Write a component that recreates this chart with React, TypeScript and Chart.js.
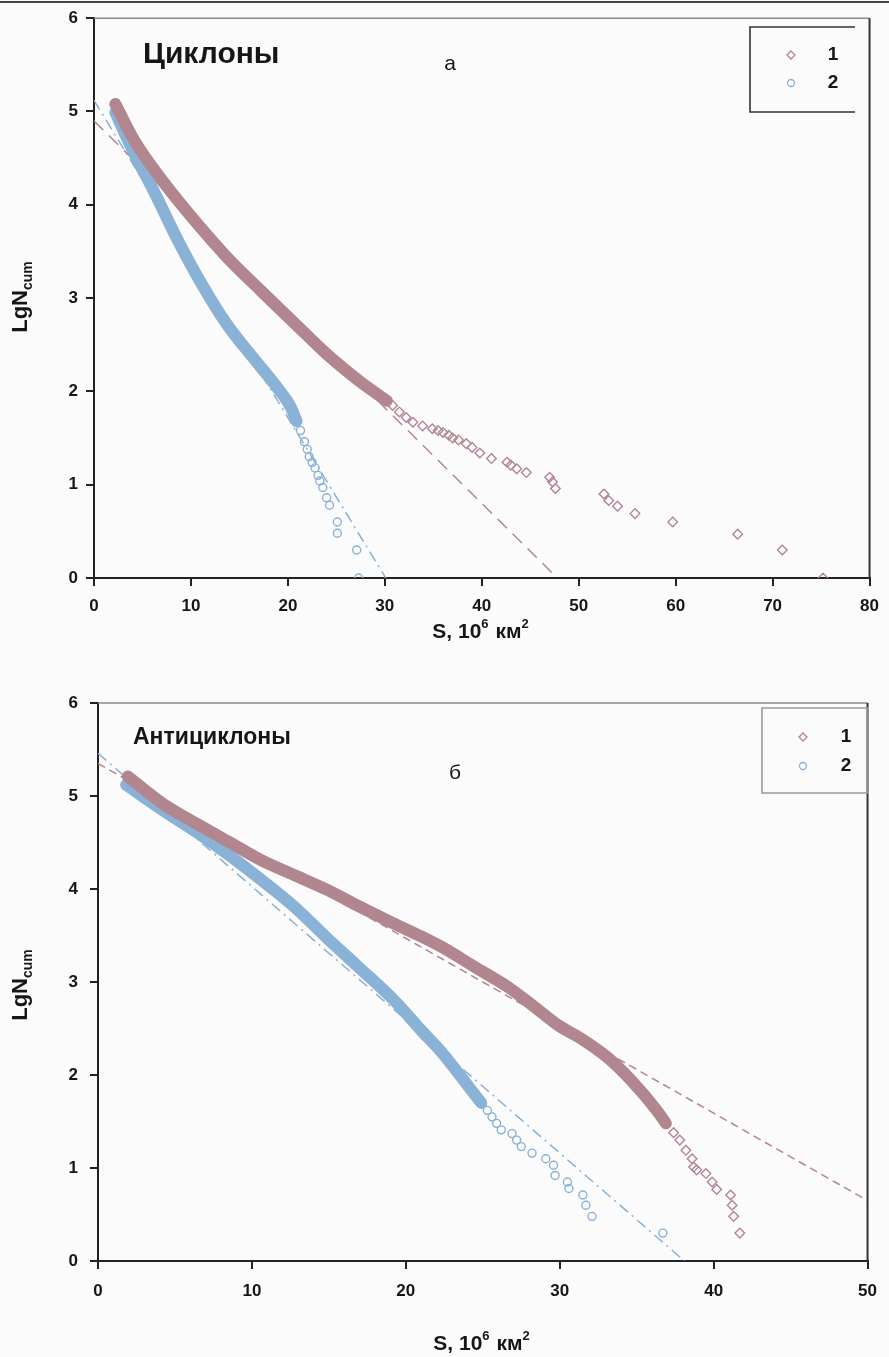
import React, { useEffect, useRef } from 'react';
import { Chart, registerables } from 'chart.js';
Chart.register(...registerables);

type Pt = [number, number];

// ---------- Panel a: Циклоны ----------
const cycBand1: Pt[] = [[2.2,5.08],[4.1,4.70],[6.9,4.28],[10.3,3.84],[13.7,3.44],[17.2,3.08],[20.6,2.74],[24.0,2.40],[27.5,2.10],[30.2,1.90]];
const cycTail1: Pt[] = [[30.8,1.85],[31.5,1.78],[32.2,1.72],[32.9,1.67],[33.9,1.63],[34.9,1.60],[35.5,1.58],[36.0,1.56],[36.6,1.53],[37.0,1.50],[37.6,1.48],[38.4,1.44],[39.0,1.40],[39.8,1.34],[41.0,1.28],[42.6,1.24],[43.0,1.21],[43.6,1.17],[44.6,1.13],[47.0,1.08],[47.3,1.03],[47.6,0.96],[52.6,0.90],[53.1,0.83],[54.0,0.77],[55.8,0.69],[59.7,0.60],[66.4,0.47],[71.0,0.30],[75.2,0.00]];
const cycBand2: Pt[] = [[2.2,4.99],[4.1,4.56],[6.2,4.14],[8.5,3.65],[11.0,3.17],[13.7,2.72],[16.5,2.35],[19.2,2.00],[20.3,1.83],[20.9,1.68]];
const cycTail2: Pt[] = [[21.3,1.58],[21.7,1.46],[22.0,1.38],[22.2,1.30],[22.5,1.24],[22.8,1.18],[23.1,1.10],[23.3,1.04],[23.6,0.97],[24.0,0.86],[24.3,0.78],[25.1,0.60],[25.1,0.48],[27.1,0.30],[27.3,0.00]];
const cycFit1: Pt[] = [[0,4.9],[47.8,0]];
const cycFit2: Pt[] = [[0,5.12],[30.1,0]];
const cycXTicks = [0,10,20,30,40,50,60,70,80];

// ---------- Panel б: Антициклоны ----------
const antBand1: Pt[] = [[1.94,5.21],[4.19,4.92],[6.33,4.71],[8.47,4.51],[10.6,4.31],[12.75,4.15],[14.9,3.99],[17.0,3.81],[19.2,3.63],[21.0,3.49],[22.4,3.37],[24.5,3.16],[26.6,2.95],[28.3,2.74],[29.85,2.54],[31.5,2.38],[33.1,2.19],[34.6,1.95],[36.3,1.62],[36.9,1.48]];
const antTail1: Pt[] = [[37.4,1.38],[37.8,1.30],[38.2,1.19],[38.6,1.10],[38.7,1.01],[38.9,0.98],[39.5,0.94],[39.9,0.85],[40.2,0.77],[41.1,0.71],[41.2,0.60],[41.3,0.48],[41.7,0.30]];
const antBand2: Pt[] = [[1.83,5.12],[4.19,4.85],[6.33,4.62],[8.47,4.37],[10.6,4.10],[12.75,3.81],[14.9,3.47],[17.0,3.15],[19.2,2.81],[21.0,2.48],[22.4,2.23],[24.1,1.87],[24.9,1.70]];
const antTail2: Pt[] = [[25.3,1.62],[25.6,1.55],[25.9,1.48],[26.2,1.41],[26.9,1.37],[27.2,1.30],[27.5,1.23],[28.2,1.16],[29.1,1.10],[29.6,1.03],[29.7,0.92],[30.5,0.85],[30.6,0.78],[31.5,0.71],[31.7,0.60],[32.1,0.48],[36.7,0.30]];
const antFit1: Pt[] = [[0,5.35],[50,0.65]];
const antFit2: Pt[] = [[0,5.46],[38.1,0]];
const antXTicks = [0,10,20,30,40,50];

const yTicks = [0,1,2,3,4,5,6];
const legendLabels = ['1','2'];

const FONT = '"Liberation Sans", Arial, sans-serif';
const MAUVE = 'rgb(178,134,142)';
const BLUE = 'rgb(138,177,214)';
const INK = '#161616';

type PanelCfg = {
  height: number;
  top: number;
  area: { left: number; right: number; top: number; bottom: number };
  xMax: number;
  xTicks: number[];
  band1: Pt[]; tail1: Pt[]; band2: Pt[]; tail2: Pt[]; fit1: Pt[]; fit2: Pt[];
  fit1Dash: number[];
  title: string; titleX: number; titleY: number; titleSize: number;
  letter: string; letterX: number; letterY: number;
  xTitleX: number; xTitleY: number;
  yTitleX: number; yTitleY: number;
  xTickPad: number; yTickPad: number;
  legend: { x1: number; y1: number; x2: number; y2: number; open: boolean; color: string; mx: number; tx: number; r1: number; r2: number };
};

const toXY = (a: Pt[]) => a.map(([x, y]) => ({ x, y }));

function decorPlugin(c: PanelCfg) {
  return {
    id: 'decor',
    afterDraw(chart: any) {
      const ctx: CanvasRenderingContext2D = chart.ctx;
      const a = chart.chartArea;
      ctx.save();
      // frame top & right
      ctx.strokeStyle = '#8a8a8a';
      ctx.lineWidth = 1.5;
      ctx.beginPath(); ctx.moveTo(a.left, a.top); ctx.lineTo(a.right, a.top); ctx.stroke();
      ctx.strokeStyle = '#333';
      ctx.lineWidth = 2;
      ctx.beginPath(); ctx.moveTo(a.right, a.top); ctx.lineTo(a.right, a.bottom + 1); ctx.stroke();

      // titles
      ctx.fillStyle = INK;
      ctx.textBaseline = 'middle';
      ctx.textAlign = 'left';
      ctx.font = `bold ${c.titleSize}px ${FONT}`;
      ctx.fillText(c.title, c.titleX, c.titleY);
      ctx.textAlign = 'center';
      ctx.font = `21px ${FONT}`;
      ctx.fillText(c.letter, c.letterX, c.letterY);

      // legend box
      const L = c.legend;
      ctx.strokeStyle = L.color;
      ctx.lineWidth = 1.6;
      ctx.beginPath();
      if (L.open) {
        ctx.moveTo(L.x2, L.y1); ctx.lineTo(L.x1, L.y1); ctx.lineTo(L.x1, L.y2); ctx.lineTo(L.x2, L.y2);
      } else {
        ctx.rect(L.x1, L.y1, L.x2 - L.x1, L.y2 - L.y1);
      }
      ctx.stroke();
      // legend markers
      ctx.lineWidth = 1.3;
      ctx.strokeStyle = MAUVE;
      const d = 4;
      ctx.beginPath();
      ctx.moveTo(L.mx, L.r1 - d); ctx.lineTo(L.mx + d, L.r1); ctx.lineTo(L.mx, L.r1 + d); ctx.lineTo(L.mx - d, L.r1); ctx.closePath();
      ctx.stroke();
      ctx.strokeStyle = BLUE;
      ctx.beginPath(); ctx.arc(L.mx, L.r2, 3.5, 0, Math.PI * 2); ctx.stroke();
      ctx.fillStyle = INK;
      ctx.font = `bold 19px ${FONT}`;
      ctx.textAlign = 'center';
      ctx.fillText(legendLabels[0], L.tx, L.r1);
      ctx.fillText(legendLabels[1], L.tx, L.r2);

      // x-axis title: S, 10^6 км^2
      const parts: [string, boolean][] = [['S, 10', false], ['6', true], [' км', false], ['2', true]];
      const big = `bold 21px ${FONT}`;
      const small = `bold 13px ${FONT}`;
      let w = 0;
      for (const [t, sup] of parts) { ctx.font = sup ? small : big; w += ctx.measureText(t).width; }
      let x = c.xTitleX - w / 2;
      ctx.textAlign = 'left';
      for (const [t, sup] of parts) {
        ctx.font = sup ? small : big;
        ctx.fillText(t, x, sup ? c.xTitleY - 8 : c.xTitleY);
        x += ctx.measureText(t).width + (sup ? 1 : 0);
      }

      // y-axis title: LgN_cum (rotated)
      ctx.translate(c.yTitleX, c.yTitleY);
      ctx.rotate(-Math.PI / 2);
      ctx.font = `bold 22px ${FONT}`;
      const w1 = ctx.measureText('LgN').width;
      ctx.font = `bold 14px ${FONT}`;
      const w2 = ctx.measureText('cum').width;
      const sx = -(w1 + w2) / 2;
      ctx.font = `bold 22px ${FONT}`;
      ctx.fillText('LgN', sx, 0);
      ctx.font = `bold 14px ${FONT}`;
      ctx.fillText('cum', sx + w1, 7);
      ctx.restore();
    },
  };
}

function Panel({ c }: { c: PanelCfg }) {
  const ref = useRef<HTMLCanvasElement>(null);
  useEffect(() => {
    const canvas = ref.current!;
    const tickFont = { family: FONT, size: 17, weight: 'bold' as const };
    const chart = new Chart(canvas, {
      type: 'scatter',
      data: {
        datasets: [
          { data: toXY(c.tail1), showLine: false, pointStyle: 'rectRot', pointRadius: 4.8, pointBorderWidth: 1.4, pointBorderColor: MAUVE, pointBackgroundColor: 'transparent' },
          { data: toXY(c.tail2), showLine: false, pointStyle: 'circle', pointRadius: 4, pointBorderWidth: 1.4, pointBorderColor: BLUE, pointBackgroundColor: 'transparent' },
          { data: toXY(c.band1), showLine: true, borderColor: MAUVE, borderWidth: 12, cubicInterpolationMode: 'monotone', pointRadius: 0, borderCapStyle: 'round', borderJoinStyle: 'round' },
          { data: toXY(c.band2), showLine: true, borderColor: BLUE, borderWidth: 12, cubicInterpolationMode: 'monotone', pointRadius: 0, borderCapStyle: 'round', borderJoinStyle: 'round' },
          { data: toXY(c.fit1), showLine: true, borderColor: MAUVE, borderWidth: 1.5, borderDash: c.fit1Dash, pointRadius: 0 },
          { data: toXY(c.fit2), showLine: true, borderColor: BLUE, borderWidth: 1.5, borderDash: [11, 5, 2, 5], pointRadius: 0 },
        ] as any,
      },
      options: {
        animation: false,
        responsive: false,
        devicePixelRatio: 1,
        layout: { padding: { left: 0, right: 889 - c.area.right, top: c.area.top, bottom: 0 } },
        plugins: { legend: { display: false }, tooltip: { enabled: false } },
        scales: {
          x: {
            type: 'linear', min: 0, max: c.xMax,
            afterBuildTicks: (s: any) => { s.ticks = c.xTicks.map((v) => ({ value: v })); },
            afterFit: (s: any) => { s.height = c.height - c.area.bottom; },
            ticks: { font: tickFont, color: INK, padding: c.xTickPad, maxRotation: 0 },
            grid: { drawOnChartArea: false, drawTicks: true, tickLength: 8, color: '#222', lineWidth: 2 },
            border: { display: true, color: '#222', width: 2 },
          },
          y: {
            type: 'linear', min: 0, max: 6,
            afterBuildTicks: (s: any) => { s.ticks = yTicks.map((v) => ({ value: v })); },
            afterFit: (s: any) => { s.width = c.area.left; },
            ticks: { font: tickFont, color: INK, padding: c.yTickPad },
            grid: { drawOnChartArea: false, drawTicks: true, tickLength: 8, color: '#222', lineWidth: 2 },
            border: { display: true, color: '#222', width: 2 },
          },
        },
      } as any,
      plugins: [decorPlugin(c)],
    });
    return () => chart.destroy();
  }, [c]);
  return (
    <canvas
      ref={ref}
      width={889}
      height={c.height}
      style={{ position: 'absolute', left: 0, top: c.top, width: 889, height: c.height }}
    />
  );
}

const panelA: PanelCfg = {
  height: 660, top: 0,
  area: { left: 94, right: 871, top: 16, bottom: 578 },
  xMax: 80, xTicks: cycXTicks,
  band1: cycBand1, tail1: cycTail1, band2: cycBand2, tail2: cycTail2, fit1: cycFit1, fit2: cycFit2,
  fit1Dash: [13, 8],
  title: 'Циклоны', titleX: 143, titleY: 55, titleSize: 30,
  letter: 'а', letterX: 450, letterY: 64,
  xTitleX: 480, xTitleY: 632,
  yTitleX: 21, yTitleY: 297,
  xTickPad: 10, yTickPad: 8,
  legend: { x1: 750, y1: 27, x2: 855, y2: 112, open: true, color: '#333', mx: 791, tx: 833, r1: 55, r2: 83 },
};

const panelB: PanelCfg = {
  height: 677, top: 680,
  area: { left: 98, right: 877, top: 23, bottom: 581 },
  xMax: 50, xTicks: antXTicks,
  band1: antBand1, tail1: antTail1, band2: antBand2, tail2: antTail2, fit1: antFit1, fit2: antFit2,
  fit1Dash: [8, 5],
  title: 'Антициклоны', titleX: 133, titleY: 58, titleSize: 23,
  letter: 'б', letterX: 455, letterY: 93,
  xTitleX: 481, xTitleY: 664,
  yTitleX: 21, yTitleY: 305,
  xTickPad: 12, yTickPad: 12,
  legend: { x1: 762, y1: 28, x2: 868, y2: 113, open: false, color: '#9a9a9a', mx: 803, tx: 846, r1: 57, r2: 86 },
};

export default function App() {
  return (
    <div style={{ position: 'absolute', left: 0, top: 0, width: 889, height: 1357, background: '#fbfbfb', overflow: 'hidden' }}>
      <div style={{ position: 'absolute', left: 0, top: 1, width: 889, height: 2, background: '#444' }} />
      <Panel c={panelA} />
      <Panel c={panelB} />
    </div>
  );
}
